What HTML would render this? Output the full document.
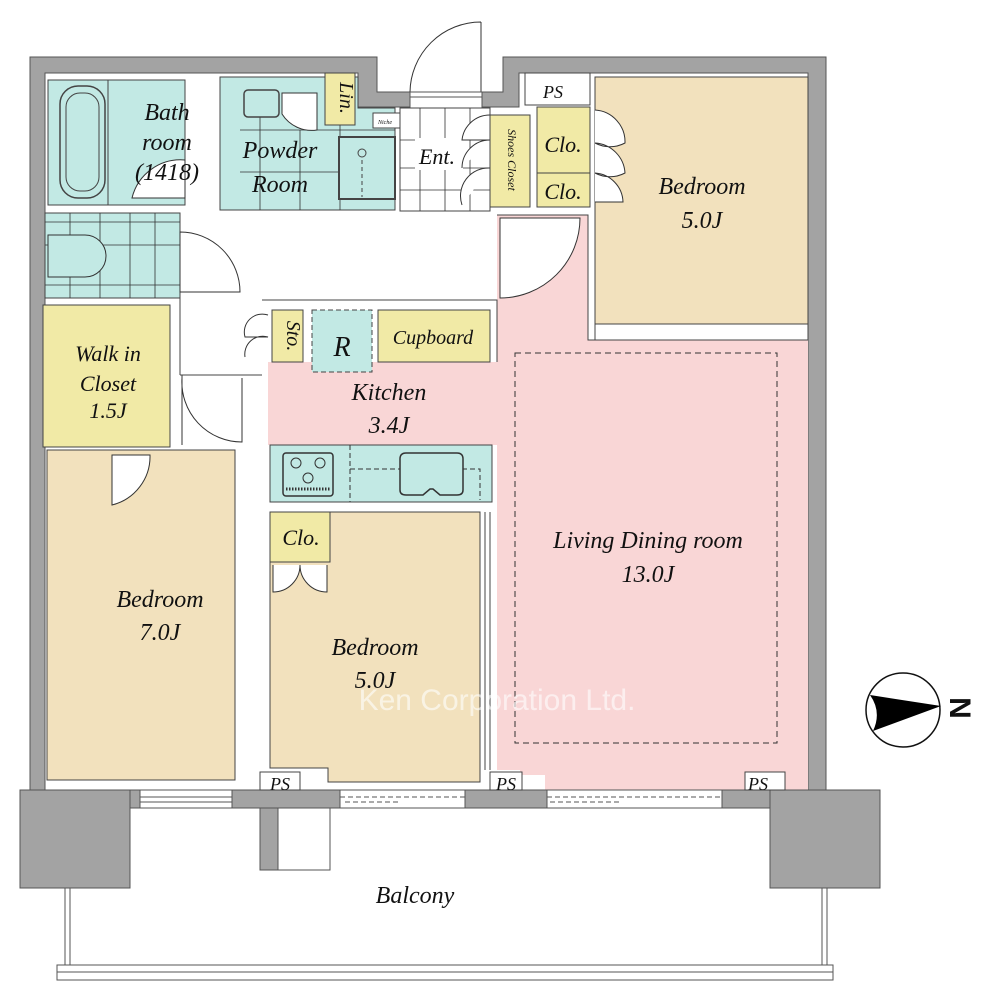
<!DOCTYPE html>
<html><head><meta charset="utf-8"><style>
html,body{margin:0;padding:0;background:#fff;}
svg{display:block}
text{font-family:"Liberation Serif",serif;font-style:italic;fill:#111;}
</style></head><body>
<svg width="1000" height="1000" viewBox="0 0 1000 1000" xmlns="http://www.w3.org/2000/svg">
<!-- outer walls -->
<path d="M30 57 H377 V92 H410 V107 H358 V73 H45 V790 H808 V73 H519 V107 H482 V92 H503 V57 H826 V790 H30 Z" fill="#a3a3a3" stroke="#555" stroke-width="1" fill-rule="evenodd"/>
<!-- entry door -->
<path d="M481 22 V92 M410 92 A71 71 0 0 1 481 22" fill="none" stroke="#333"/>
<path d="M410 92 H482 M410 97 H482" stroke="#555"/>

<!-- bath -->
<rect x="48" y="80" width="137" height="125" fill="#c2e9e4" stroke="#444"/>
<rect x="60" y="86" width="45" height="112" rx="18" fill="#c2e9e4" stroke="#444" stroke-width="1.5"/>
<rect x="66" y="93" width="33" height="98" rx="14" fill="none" stroke="#444"/>
<line x1="108" y1="80" x2="108" y2="205" stroke="#444"/>
<path d="M132 198 H185 V160 A50 50 0 0 0 132 198 Z" fill="#fff" stroke="#333"/>
<!-- powder -->
<path d="M220 77 H358 V108 H395 V210 H220 Z" fill="#c2e9e4" stroke="#444"/>
<path d="M240 130 H395 M240 172 H395 M300 130 V210 M340 100 V210 M260 110 V210" stroke="#333" stroke-width="0.8" fill="none"/>
<rect x="244" y="90" width="35" height="27" rx="4" fill="#c2e9e4" stroke="#444" stroke-width="1.5"/>
<path d="M282 93 V114 A35 35 0 0 0 317 130 V93 Z" fill="#fff" stroke="#333"/>
<rect x="339" y="137" width="56" height="62" fill="#c2e9e4" stroke="#444" stroke-width="2"/>
<circle cx="362" cy="153" r="4" fill="none" stroke="#444"/>
<line x1="362" y1="160" x2="362" y2="197" stroke="#444" stroke-dasharray="4,3"/>
<rect x="325" y="73" width="30" height="52" fill="#f1eaa6" stroke="#444"/>
<rect x="373" y="113" width="27" height="15" fill="#fff" stroke="#444"/>
<text x="378" y="124" font-size="6">Niche</text>
<!-- Ent grid -->
<rect x="400" y="108" width="90" height="103" fill="#fff" stroke="#444"/>
<path d="M400 140 H490 M400 168 H490 M400 190 H490 M420 108 V211 M445 108 V211 M470 108 V211" stroke="#333" stroke-width="0.8"/>
<rect x="415" y="138" width="48" height="32" fill="#fff"/>
<path d="M490 115 A28 28 0 0 0 462 140 H490 M490 140 A28 28 0 0 0 462 168 M490 168 A28 28 0 0 0 462 205" fill="#fff" stroke="#333"/>
<rect x="490" y="115" width="40" height="92" fill="#f1eaa6" stroke="#444"/>
<rect x="537" y="107" width="53" height="100" fill="#f1eaa6" stroke="#444"/>
<line x1="537" y1="173" x2="590" y2="173" stroke="#444"/>
<rect x="525" y="73" width="65" height="32" fill="#fff" stroke="#444"/>
<!-- bedroom top right -->
<rect x="595" y="77" width="213" height="247" fill="#f2e1bd" stroke="#444"/>
<path d="M595 110 A32 32 0 0 1 625 143 A32 32 0 0 1 595 143 M595 143 A32 32 0 0 1 625 173 A32 32 0 0 1 595 173 M595 173 A30 30 0 0 1 623 202 H595" fill="#fff" stroke="#333"/>
<rect x="595" y="324" width="213" height="16" fill="#fff" stroke="#444"/>
<!-- pink living -->
<path d="M497 215 H588 V340 H808 V790 H545 V775 H520 V770 H497 Z" fill="#f9d6d6"/>
<path d="M497 215 H588 V340 H808" fill="none" stroke="#444"/>
<path d="M500 218 V298 A80 80 0 0 0 580 218 Z" fill="#fff" stroke="#333"/>
<rect x="515" y="353" width="262" height="390" fill="none" stroke="#333" stroke-dasharray="6,4"/>
<!-- toilet -->
<rect x="45" y="213" width="135" height="85" fill="#c2e9e4" stroke="#444"/>
<path d="M45 222 H180 M45 285 H180 M70 213 V298 M100 213 V298 M130 213 V298 M155 213 V298 M45 245 H180" stroke="#333" stroke-width="0.8"/>
<path d="M48 235 H85 A21 21 0 0 1 85 277 H48 Z" fill="#c2e9e4" stroke="#333"/>
<path d="M180 232 A60 60 0 0 1 240 292 H180 Z" fill="#fff" stroke="#333"/>
<!-- walk in closet -->
<rect x="43" y="305" width="127" height="142" fill="#f1eaa6" stroke="#444"/>
<path d="M182 375 V445 M242 378 V442 A60 60 0 0 1 182 378" fill="none" stroke="#333"/>
<!-- bedroom 7 -->
<path d="M47 450 H235 V780 H47 Z" fill="#f2e1bd" stroke="#444"/>
<path d="M112 455 V505 A50 50 0 0 0 150 455 Z" fill="#fff" stroke="#333"/>
<path d="M180 375 H262 M180 298 V375" stroke="#444" fill="none"/>
<!-- kitchen -->
<rect x="268" y="362" width="230" height="83" fill="#f9d6d6"/>
<path d="M262 300 H497 V362" fill="none" stroke="#444"/>
<rect x="272" y="310" width="31" height="52" fill="#f1eaa6" stroke="#444"/>
<path d="M268 315 A18 18 0 0 0 245 337 H268 A18 18 0 0 0 245 357" fill="#fff" stroke="#333"/>
<rect x="312" y="310" width="60" height="62" fill="#c2e9e4" stroke="#444" stroke-dasharray="5,3"/>
<rect x="378" y="310" width="112" height="52" fill="#f1eaa6" stroke="#444"/>
<rect x="270" y="445" width="222" height="57" fill="#c2e9e4" stroke="#444"/>
<rect x="283" y="453" width="50" height="43" rx="3" fill="none" stroke="#333" stroke-width="1.5"/>
<circle cx="296" cy="463" r="5" fill="none" stroke="#333"/><circle cx="320" cy="463" r="5" fill="none" stroke="#333"/><circle cx="308" cy="478" r="5" fill="none" stroke="#333"/>
<path d="M286 489 H330" stroke="#333" stroke-width="3" stroke-dasharray="1.5,1.5"/>
<path d="M350 445 V502 M350 469 H480 V500" stroke="#333" stroke-dasharray="5,3" fill="none"/>
<path d="M400 459 Q400 453 406 453 H457 Q463 453 463 459 V490 Q463 495 457 495 H440 L433 489 H430 L423 495 H406 Q400 495 400 490 Z" fill="#c2e9e4" stroke="#333" stroke-width="1.5"/>
<!-- bedroom 5 middle -->
<path d="M270 512 H480 V782 H328 V768 H270 Z" fill="#f2e1bd" stroke="#444"/>
<rect x="270" y="512" width="60" height="50" fill="#f1eaa6" stroke="#444"/>
<path d="M273 565 V592 A27 27 0 0 0 300 565 A27 27 0 0 0 327 592 V565" fill="#fff" stroke="#333"/>
<line x1="485" y1="512" x2="485" y2="770" stroke="#444"/>
<line x1="490" y1="512" x2="490" y2="770" stroke="#444"/>
<!-- bottom strip -->
<rect x="20" y="790" width="860" height="18" fill="#a3a3a3" stroke="#555"/>
<rect x="140" y="790" width="92" height="18" fill="#fff" stroke="#555"/>
<path d="M140 797 H232 M140 802 H232" stroke="#555"/>
<rect x="340" y="790" width="125" height="18" fill="#fff" stroke="#555"/>
<path d="M340 797 H465 M345 802 H400" stroke="#555" stroke-dasharray="5,3"/>
<rect x="547" y="790" width="175" height="18" fill="#fff" stroke="#555"/>
<path d="M547 797 H722 M550 802 H620" stroke="#555" stroke-dasharray="5,3"/>
<rect x="20" y="790" width="110" height="98" fill="#a3a3a3" stroke="#555"/>
<rect x="770" y="790" width="110" height="98" fill="#a3a3a3" stroke="#555"/>
<rect x="260" y="808" width="18" height="62" fill="#a3a3a3" stroke="#555"/>
<rect x="278" y="808" width="52" height="62" fill="#fff" stroke="#555"/>
<rect x="260" y="772" width="40" height="18" fill="#fff" stroke="#444"/>
<rect x="490" y="772" width="32" height="18" fill="#fff" stroke="#444"/>
<rect x="745" y="772" width="40" height="18" fill="#fff" stroke="#444"/>
<!-- balcony rails -->
<rect x="65" y="888" width="5" height="77" fill="#fff" stroke="#555"/>
<rect x="822" y="888" width="5" height="77" fill="#fff" stroke="#555"/>
<rect x="57" y="965" width="776" height="15" fill="#fff" stroke="#555"/>
<line x1="57" y1="972" x2="833" y2="972" stroke="#555"/>
<!-- compass -->
<circle cx="903" cy="710" r="37" fill="#fff" stroke="#111" stroke-width="1.5"/>
<path d="M870 695 L941 706 L873 731 Q882 712 870 695 Z" fill="#000"/>
<text x="960" y="718" font-size="30" style="font-family:'Liberation Sans',sans-serif;font-style:normal;font-weight:bold" transform="rotate(90 960 708)" text-anchor="middle">N</text>
<!-- labels -->
<g font-size="24" text-anchor="middle">
<text x="167" y="120">Bath</text><text x="167" y="150">room</text><text x="167" y="180">(1418)</text>
<text x="280" y="158">Powder</text><text x="280" y="192">Room</text>
<text x="437" y="164" font-size="22">Ent.</text>
<text x="563" y="152" font-size="22">Clo.</text><text x="563" y="199" font-size="22">Clo.</text>
<text x="702" y="194">Bedroom</text><text x="702" y="228">5.0J</text>
<text x="108" y="361" font-size="22">Walk in</text><text x="108" y="391" font-size="22">Closet</text><text x="108" y="418" font-size="22">1.5J</text>
<text x="342" y="356" font-size="28">R</text>
<text x="433" y="344" font-size="20">Cupboard</text>
<text x="389" y="400">Kitchen</text><text x="389" y="433">3.4J</text>
<text x="301" y="545" font-size="22">Clo.</text>
<text x="160" y="607">Bedroom</text><text x="160" y="640">7.0J</text>
<text x="375" y="655">Bedroom</text><text x="375" y="688">5.0J</text>
<text x="648" y="548">Living Dining room</text><text x="648" y="582">13.0J</text>
<text x="415" y="903">Balcony</text>
</g>
<g font-size="18" text-anchor="middle">
<text x="553" y="98">PS</text><text x="280" y="790">PS</text><text x="506" y="790">PS</text><text x="758" y="790">PS</text>
</g>
<text x="340" y="98" font-size="20" text-anchor="middle" transform="rotate(90 340 98)">Lin.</text>
<text x="287" y="336" font-size="20" text-anchor="middle" transform="rotate(90 287 336)">Sto.</text>
<text x="508" y="160" font-size="12" text-anchor="middle" transform="rotate(90 508 160)">Shoes Closet</text>
<text x="497" y="710" font-size="30" text-anchor="middle" style="font-family:'Liberation Sans',sans-serif;font-style:normal;fill:#fff;opacity:0.6">Ken Corporation Ltd.</text>
</svg>
</body></html>
